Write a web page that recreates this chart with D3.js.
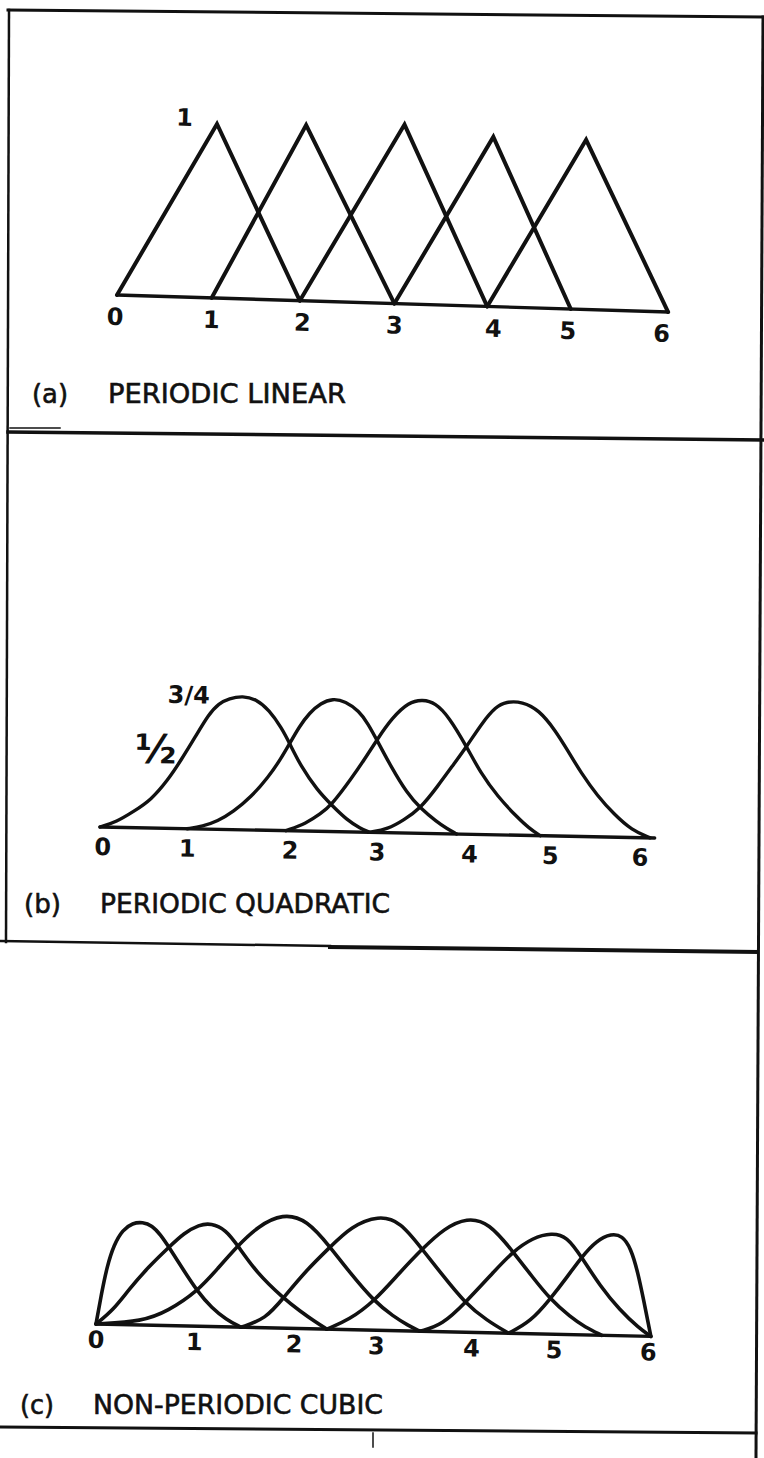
<!DOCTYPE html>
<html>
<head>
<meta charset="utf-8">
<script src="https://cdn.jsdelivr.net/npm/d3@7"></script>
<style>
  body { margin: 0; background: #fff; }
  svg { display: block; }
</style>
</head>
<body>
<svg id="fig" width="764" height="1458"></svg>
<script>
// ---------- data ----------
const tickLabels = ["0", "1", "2", "3", "4", "5", "6"];

// (a) periodic linear: hat functions between knots
const linearKnots = [0, 1.03, 1.99, 3.02, 4.03, 4.94, 6.0];
const linearPeakT = [1.03, 2.0, 3.07, 4.04, 5.05];
const linearPeakV = [1, 1.01, 1.03, 0.975, 0.975];
const linearTickT = [-0.02, 1.03, 2.02, 3.02, 4.1, 4.91, 5.93];

// (b) periodic quadratic basis functions, [t, value]
const quadCurve1 = [[0,0],[0.18,0.031],[0.36,0.09],[0.55,0.157],[0.73,0.271],[0.87,0.385],[1.02,0.517],[1.16,0.645],[1.27,0.708],[1.38,0.737],[1.53,0.752],[1.67,0.736],[1.82,0.676],[1.96,0.575],[2.05,0.49],[2.18,0.361],[2.36,0.232],[2.52,0.149],[2.69,0.067],[2.84,0.021],[2.94,0]];
const quadCurve2 = [[0.95,0],[1.12,0.015],[1.28,0.045],[1.45,0.1],[1.64,0.185],[1.82,0.295],[1.96,0.405],[2.05,0.49],[2.15,0.585],[2.26,0.665],[2.38,0.72],[2.51,0.748],[2.65,0.733],[2.8,0.68],[2.9,0.61],[3.0,0.52],[3.16,0.371],[3.34,0.224],[3.49,0.14],[3.67,0.067],[3.78,0.03],[3.89,0]];
const quadCurve3 = [[2.03,0],[2.25,0.044],[2.4,0.098],[2.52,0.149],[2.73,0.3],[2.87,0.41],[3.0,0.52],[3.16,0.645],[3.34,0.736],[3.49,0.752],[3.63,0.734],[3.78,0.658],[3.98,0.492],[4.14,0.344],[4.33,0.215],[4.54,0.104],[4.68,0.04],[4.8,0]];
const quadCurve4 = [[2.94,0],[3.14,0.02],[3.31,0.073],[3.49,0.14],[3.67,0.264],[3.85,0.397],[3.98,0.492],[4.14,0.625],[4.29,0.72],[4.4,0.749],[4.58,0.751],[4.76,0.706],[4.94,0.596],[5.09,0.476],[5.23,0.36],[5.42,0.228],[5.6,0.13],[5.8,0.04],[6.0,0]];
const quadTickT = [0.03, 0.95, 2.07, 3.02, 4.03, 4.91, 5.89];

// (c) non-periodic cubic basis functions, [t, value]
const cubicCurve1 = [[0,0],[0.053,0.177],[0.106,0.329],[0.175,0.453],[0.266,0.539],[0.372,0.578],[0.478,0.585],[0.584,0.566],[0.674,0.516],[0.77,0.446],[0.929,0.32],[1.089,0.198],[1.248,0.105],[1.407,0.042],[1.567,0]];
const cubicCurve2 = [[0,0],[0.186,0.084],[0.345,0.199],[0.558,0.334],[0.77,0.446],[0.929,0.528],[1.089,0.577],[1.221,0.588],[1.381,0.552],[1.514,0.463],[1.726,0.31],[2.018,0.171],[2.204,0.098],[2.363,0.042],[2.496,0]];
const cubicCurve3 = [[0,0],[0.505,0.021],[0.77,0.081],[1.089,0.198],[1.301,0.33],[1.514,0.463],[1.726,0.575],[1.991,0.652],[2.257,0.619],[2.512,0.467],[2.735,0.322],[3.001,0.164],[3.213,0.081],[3.372,0.032],[3.505,0]];
const cubicCurve4 = [[1.567,0],[1.832,0.05],[2.018,0.171],[2.257,0.33],[2.512,0.467],[2.735,0.587],[3.027,0.653],[3.266,0.621],[3.505,0.467],[3.744,0.315],[3.983,0.166],[4.222,0.07],[4.461,0]];
const cubicCurve5 = [[2.496,0],[2.735,0.056],[3.001,0.164],[3.266,0.328],[3.505,0.467],[3.744,0.589],[3.983,0.651],[4.222,0.627],[4.488,0.465],[4.7,0.326],[4.902,0.199],[5.125,0.1],[5.284,0.045],[5.47,0]];
const cubicCurve6 = [[3.505,0],[3.744,0.04],[3.983,0.166],[4.275,0.34],[4.488,0.465],[4.7,0.545],[4.902,0.576],[5.072,0.557],[5.231,0.442],[5.443,0.277],[5.656,0.147],[5.868,0.046],[6.0,0]];
const cubicCurve7 = [[4.461,0],[4.7,0.07],[4.902,0.199],[5.072,0.32],[5.231,0.442],[5.39,0.538],[5.55,0.58],[5.666,0.568],[5.762,0.499],[5.842,0.367],[5.921,0.188],[6.0,0]];
const cubicTickT = [0, 1.06, 2.14, 3.03, 4.06, 4.95, 5.97];

// ---------- drawing ----------
const svg = d3.select("#fig");
const INK = "#111";

// one panel: a slightly tilted baseline frame with its own scales
function makePanel(cfg) {
  const g = svg.append("g")
    .attr("transform", `translate(${cfg.ox},${cfg.oy}) rotate(${cfg.angle})`);
  const x = d3.scaleLinear().domain([0, 6]).range([0, 6 * cfg.unitX]);
  const y = d3.scaleLinear().domain([0, 1]).range([0, -cfg.unitY]);

  // baseline
  g.append("path")
    .attr("d", d3.line().x(d => x(d)).y(() => y(0))([0, cfg.axisEnd]))
    .attr("fill", "none").attr("stroke", INK)
    .attr("stroke-width", 3.4).attr("stroke-linecap", "round");

  // hand-lettered knot numbers under the baseline
  const ax = g.append("g").attr("class", "knots")
    .call(d3.axisBottom(x)
      .tickValues(cfg.tickT)
      .tickFormat((d, i) => tickLabels[i])
      .tickSize(0)
      .tickPadding(cfg.tickPad));
  ax.select(".domain").remove();
  ax.selectAll("text")
    .attr("font-family", "DejaVu Sans, sans-serif")
    .attr("font-weight", "bold")
    .attr("font-size", 24)
    .attr("fill", INK);

  return { g, x, y };
}

function drawCurves(p, curves, width, curve) {
  const line = d3.line().x(d => p.x(d[0])).y(d => p.y(d[1])).curve(curve);
  p.g.selectAll("path.basis")
    .data(curves)
    .join("path")
    .attr("class", "basis")
    .attr("d", line)
    .attr("fill", "none")
    .attr("stroke", INK)
    .attr("stroke-width", width)
    .attr("stroke-linejoin", "miter")
    .attr("stroke-linecap", "round");
}

function handLabel(p, text, t, v, size, dx, dy) {
  p.g.append("text")
    .attr("x", p.x(t) + (dx || 0))
    .attr("y", p.y(v) + (dy || 0))
    .attr("text-anchor", "middle")
    .attr("dominant-baseline", "central")
    .attr("font-family", "DejaVu Sans, sans-serif")
    .attr("font-weight", "bold")
    .attr("font-size", size)
    .attr("fill", INK)
    .text(text);
}

// caption in narrow lettering
function caption(tag, title, cfg) {
  const sx = 0.72;
  const add = (str, left, width) => svg.append("text")
    .attr("transform", `translate(${left},${cfg.baseline}) scale(${sx},1)`)
    .attr("x", 0).attr("y", 0)
    .attr("textLength", width / sx)
    .attr("lengthAdjust", "spacingAndGlyphs")
    .attr("font-family", "DejaVu Sans, sans-serif")
    .attr("font-size", 27)
    .attr("fill", INK)
    .attr("stroke", INK)
    .attr("stroke-width", 0.6)
    .text(str);
  add(tag, cfg.tagLeft, cfg.tagWidth);
  add(title, cfg.titleLeft, cfg.titleWidth);
}

// ----- (a) periodic linear -----
const pa = makePanel({ ox: 117, oy: 295, angle: 1.77, unitX: 91.9, unitY: 174,
  axisEnd: 6.0, tickT: linearTickT, tickPad: 13 });
const hats = linearPeakT.map((t, i) => [
  [linearKnots[i], 0], [t, linearPeakV[i]], [linearKnots[i + 2], 0]
]);
drawCurves(pa, hats, 4, d3.curveLinear);
handLabel(pa, "1", 0.675, 1.03, 24);
caption("(a)", "PERIODIC LINEAR",
  { baseline: 403, tagLeft: 32, tagWidth: 36, titleLeft: 108, titleWidth: 238 });

// ----- (b) periodic quadratic -----
const pb = makePanel({ ox: 100, oy: 827, angle: 1.13, unitX: 91.7, unitY: 178,
  axisEnd: 6.05, tickT: quadTickT, tickPad: 11 });
drawCurves(pb, [quadCurve1, quadCurve2, quadCurve3, quadCurve4], 3.4, d3.curveBasis);
handLabel(pb, "3/4", 0.94, 0.75, 24);
handLabel(pb, "\u00BD", 0.59, 0.5, 40, 0, 10);
caption("(b)", "PERIODIC QUADRATIC",
  { baseline: 913, tagLeft: 24, tagWidth: 37, titleLeft: 100, titleWidth: 290 });

// ----- (c) non-periodic cubic -----
const pc = makePanel({ ox: 96, oy: 1324, angle: 1.28, unitX: 92.5, unitY: 176,
  axisEnd: 6.0, tickT: cubicTickT, tickPad: 7 });
drawCurves(pc, [cubicCurve1, cubicCurve2, cubicCurve3, cubicCurve4,
  cubicCurve5, cubicCurve6, cubicCurve7], 3.6, d3.curveBasis);
caption("(c)", "NON-PERIODIC CUBIC",
  { baseline: 1414, tagLeft: 20, tagWidth: 34, titleLeft: 93, titleWidth: 290 });

// ----- hand-ruled frame -----
const rules = [
  { pts: [[8, 10], [764, 17]], w: 3 },
  { pts: [[9, 10], [6, 942]], w: 2.5 },
  { pts: [[763, 17], [756, 1458]], w: 3 },
  { pts: [[8, 432], [764, 440]], w: 3.5 },
  { pts: [[10, 428], [60, 428]], w: 1.5 },
  { pts: [[0, 941], [330, 946]], w: 2.5 },
  { pts: [[330, 947], [757, 952]], w: 4 },
  { pts: [[0, 1427], [756, 1433]], w: 3 },
  { pts: [[373, 1433], [373, 1447]], w: 1.5 }
];
svg.append("g").selectAll("path")
  .data(rules)
  .join("path")
  .attr("d", d => d3.line()(d.pts))
  .attr("fill", "none")
  .attr("stroke", INK)
  .attr("stroke-width", d => d.w)
  .attr("stroke-linecap", "square");
</script>
</body>
</html>
